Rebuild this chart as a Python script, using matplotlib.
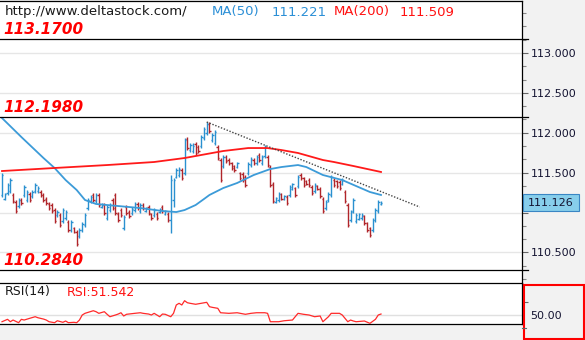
import matplotlib
matplotlib.use('Agg')
import matplotlib.pyplot as plt
from matplotlib.patches import Rectangle
from matplotlib.lines import Line2D
from matplotlib.ticker import FixedLocator
import numpy as np

W, H, DPI = 585, 340, 100

# ---------------- data ----------------
opens = [111.220, 111.170, 111.245, 111.270, 111.220, 111.133, 111.082, 111.158, 111.220, 111.158,
         111.233, 111.208, 111.270, 111.270, 111.258, 111.220, 111.170, 111.108, 111.095, 111.032,
         110.970, 110.970, 110.894, 110.932, 110.882, 110.781, 110.806, 110.756, 110.706, 110.781,
         110.844, 111.057, 111.145, 111.220, 111.145, 111.220, 111.070, 111.095, 110.932, 111.032,
         111.158, 111.220, 110.982, 111.032, 110.806, 111.070, 111.007, 110.995, 111.032, 111.108,
         111.020, 111.095, 111.020, 111.070, 110.982, 110.970, 110.982, 111.007, 111.070, 110.982,
         110.982, 110.907, 111.158, 111.446, 111.471, 111.534, 111.496, 111.922, 111.784, 111.772,
         111.860, 111.822, 111.834, 111.935, 111.997, 112.110, 111.910, 111.872, 111.822, 111.659,
         111.584, 111.697, 111.659, 111.621, 111.584, 111.571, 111.496, 111.484, 111.446, 111.496,
         111.596, 111.659, 111.621, 111.722, 111.621, 111.709, 111.697, 111.571, 111.358, 111.133,
         111.158, 111.233, 111.170, 111.195, 111.220, 111.296, 111.308, 111.333, 111.471, 111.433,
         111.396, 111.408, 111.321, 111.270, 111.333, 111.296, 111.170, 111.057, 111.158, 111.220,
         111.408, 111.396, 111.383, 111.358, 111.258, 111.095, 110.907, 111.020, 110.894, 110.919,
         110.932, 110.957, 110.869, 110.806, 110.781, 110.907, 111.020, 111.110]
highs = [111.496, 111.245, 111.371, 111.433, 111.245, 111.158, 111.183, 111.183, 111.346, 111.283,
         111.258, 111.283, 111.371, 111.333, 111.283, 111.245, 111.195, 111.133, 111.120, 111.057,
         111.032, 110.995, 111.057, 111.032, 110.907, 110.907, 110.819, 110.781, 110.806, 110.882,
         110.995, 111.183, 111.220, 111.245, 111.245, 111.245, 111.120, 111.120, 111.095, 111.120,
         111.183, 111.245, 111.007, 111.057, 110.970, 111.095, 111.032, 111.070, 111.133, 111.133,
         111.120, 111.120, 111.070, 111.095, 110.995, 111.057, 111.007, 111.057, 111.095, 111.032,
         111.007, 111.471, 111.433, 111.559, 111.571, 111.559, 111.935, 111.947, 111.872, 111.872,
         111.885, 111.847, 111.972, 112.073, 112.135, 112.135, 111.997, 112.035, 111.847, 111.684,
         111.722, 111.722, 111.684, 111.634, 111.596, 111.634, 111.509, 111.509, 111.471, 111.634,
         111.697, 111.684, 111.722, 111.747, 111.722, 111.847, 111.722, 111.596, 111.383, 111.195,
         111.258, 111.245, 111.220, 111.220, 111.346, 111.371, 111.321, 111.471, 111.496, 111.446,
         111.408, 111.433, 111.346, 111.371, 111.346, 111.321, 111.195, 111.158, 111.258, 111.471,
         111.433, 111.408, 111.408, 111.433, 111.283, 111.120, 111.032, 111.183, 110.995, 110.995,
         110.995, 110.970, 110.882, 110.819, 110.932, 111.057, 111.158, 111.140]
lows = [111.195, 111.158, 111.220, 111.245, 111.120, 110.995, 111.057, 111.095, 111.195, 111.133,
        111.133, 111.183, 111.245, 111.245, 111.195, 111.133, 111.095, 111.032, 110.995, 110.869,
        110.945, 110.819, 110.869, 110.907, 110.756, 110.756, 110.744, 110.581, 110.681, 110.756,
        110.819, 111.032, 111.120, 111.133, 111.120, 111.070, 111.057, 110.970, 110.907, 111.007,
        111.032, 110.970, 110.882, 110.945, 110.781, 110.970, 110.932, 110.970, 111.007, 111.032,
        110.995, 111.032, 111.007, 110.970, 110.907, 110.945, 110.907, 110.995, 110.995, 110.970,
        110.882, 110.744, 111.070, 111.433, 111.446, 111.408, 111.471, 111.784, 111.759, 111.747,
        111.722, 111.747, 111.809, 111.910, 111.972, 111.997, 111.885, 111.847, 111.659, 111.383,
        111.559, 111.621, 111.596, 111.534, 111.509, 111.559, 111.408, 111.383, 111.321, 111.471,
        111.571, 111.596, 111.596, 111.634, 111.596, 111.684, 111.571, 111.321, 111.120, 111.120,
        111.133, 111.158, 111.158, 111.095, 111.195, 111.283, 111.195, 111.308, 111.408, 111.321,
        111.346, 111.321, 111.220, 111.245, 111.283, 111.183, 110.995, 111.032, 111.133, 111.195,
        111.321, 111.308, 111.283, 111.346, 111.120, 110.819, 110.882, 110.995, 110.869, 110.907,
        110.907, 110.844, 110.756, 110.694, 110.756, 110.882, 110.995, 111.100]
closes = [111.471, 111.233, 111.346, 111.408, 111.145, 111.020, 111.158, 111.120, 111.321, 111.258,
          111.158, 111.258, 111.346, 111.308, 111.220, 111.158, 111.120, 111.057, 111.020, 110.894,
          111.007, 110.844, 111.032, 111.007, 110.781, 110.882, 110.756, 110.606, 110.781, 110.857,
          110.970, 111.158, 111.195, 111.158, 111.220, 111.095, 111.108, 110.995, 111.070, 111.095,
          111.057, 110.995, 110.907, 110.970, 110.945, 110.995, 110.957, 111.045, 111.108, 111.057,
          111.095, 111.057, 111.057, 110.995, 110.932, 111.032, 110.932, 111.045, 111.020, 111.020,
          110.907, 111.408, 111.408, 111.534, 111.546, 111.433, 111.910, 111.809, 111.847, 111.834,
          111.747, 111.772, 111.947, 112.047, 112.110, 112.022, 111.972, 112.010, 111.684, 111.408,
          111.697, 111.646, 111.621, 111.559, 111.534, 111.621, 111.433, 111.408, 111.346, 111.609,
          111.671, 111.621, 111.697, 111.659, 111.697, 111.822, 111.596, 111.346, 111.145, 111.183,
          111.233, 111.170, 111.208, 111.120, 111.321, 111.358, 111.220, 111.446, 111.433, 111.346,
          111.358, 111.346, 111.245, 111.346, 111.296, 111.208, 111.020, 111.133, 111.233, 111.446,
          111.346, 111.333, 111.308, 111.408, 111.145, 110.844, 111.007, 111.158, 110.970, 110.982,
          110.970, 110.869, 110.781, 110.719, 110.907, 111.032, 111.133, 111.126]

ma50_idx = [0, 7, 15, 19, 23, 27, 30, 34, 38, 50, 58, 63, 66, 70, 73, 75, 80, 85, 91, 97,
            101, 107, 110, 116, 123, 128, 133, 137]
ma50_val = [112.185, 111.947, 111.684, 111.559, 111.408, 111.283, 111.158, 111.108, 111.095, 111.057,
            111.020, 111.007, 111.032, 111.095, 111.170, 111.221, 111.308, 111.371, 111.471, 111.546,
            111.571, 111.596, 111.571, 111.471, 111.408, 111.333, 111.258, 111.221]
ma200_idx = [0, 19, 38, 55, 66, 76, 80, 89, 96, 101, 107, 116, 120, 127, 137]
ma200_val = [111.521, 111.559, 111.596, 111.634, 111.684, 111.747, 111.772, 111.809, 111.809, 111.784,
             111.747, 111.659, 111.634, 111.584, 111.509]

trend_idx = [74, 151]
trend_val = [112.135, 111.070]

rsi_idx = [0, 2, 3, 4, 6, 7, 8, 10, 12, 13, 15, 16, 17, 19, 20, 22, 23, 24, 26, 27,
           28, 29, 30, 33, 34, 35, 37, 38, 39, 41, 42, 43, 44, 45, 48, 50, 51, 53, 54, 55,
           57, 58, 59, 61, 62, 63, 64, 65, 66, 67, 68, 70, 72, 74, 75, 76, 78, 79, 82, 85,
           88, 90, 92, 95, 96, 97, 100, 102, 105, 107, 109, 111, 113, 115, 116, 118, 119, 122, 123, 125,
           126, 127, 128, 131, 133, 135, 136, 137]
rsi_val = [39.7, 43.4, 39.7, 42.3, 38.2, 43.4, 42.3, 44.9, 47.4, 45.8, 43.8, 42.3, 39.7, 38.2, 41.2, 38.8, 40.8, 38.2, 38.8, 38.2,
           42.3, 50.0, 52.6, 56.6, 55.1, 52.6, 55.1, 51.1, 47.4, 50.0, 51.5, 53.5, 48.5, 51.1, 52.6, 53.5, 52.6, 51.5, 50.0, 52.6,
           47.4, 51.5, 51.1, 47.4, 52.6, 65.4, 68.0, 65.4, 72.0, 68.9, 68.0, 66.5, 68.0, 69.5, 62.8, 61.8, 60.3, 53.5, 52.6, 53.5,
           51.1, 52.6, 53.5, 53.5, 52.6, 39.7, 39.7, 41.2, 42.3, 52.6, 51.1, 50.0, 47.4, 48.5, 39.7, 47.4, 52.6, 52.6, 50.0, 39.7,
           42.3, 40.8, 39.7, 40.8, 37.2, 43.4, 50.0, 51.542]

levels = [113.17, 112.198, 110.284]
level_labels = ['113.1700', '112.1980', '110.2840']
price_ticks = [110.5, 111.0, 111.5, 112.0, 112.5, 113.0]
price_tick_labels = ['110.500', '', '111.500', '112.000', '112.500', '113.000']
last_price = 111.126
ma50_last = 111.221
ma200_last = 111.509
rsi_last = 51.542

# ---------------- layout helpers ----------------
def fx(px):
    return px / W

def fy(py):
    return 1 - py / H

PX_PER_UNIT = 79.8
P0 = 113.0 + 53 / PX_PER_UNIT   # price at pixel row 0

def price_at(py):
    return P0 - py / PX_PER_UNIT

fig = plt.figure(figsize=(W / DPI, H / DPI), dpi=DPI, facecolor='#f2f2f2')

n = len(closes)
s = 379 / (n - 1)
xl = (-2 / s, 520 / s)

# ---------------- main panel ----------------
ax = fig.add_axes([0, fy(283), fx(522), 282 / H])
ax.set_facecolor('white')
ax.set_xlim(*xl)
ax.set_ylim(price_at(283), price_at(1))

x = np.arange(n)
up = np.array(closes) >= np.array(opens)
colors = np.where(up, '#2a90d0', '#b0252a')
ax.vlines(x, lows, highs, colors=colors, lw=1.0, zorder=3)
ax.hlines(opens, x - 0.5, x, colors=colors, lw=1.0, zorder=3)
ax.hlines(closes, x, x + 0.5, colors=colors, lw=1.0, zorder=3)

ax.plot(ma50_idx, ma50_val, color='#3c9bd8', lw=1.3, zorder=4)
ax.plot(ma200_idx, ma200_val, color='#ff1a1a', lw=1.3, zorder=4)
ax.plot(trend_idx, trend_val, color='#444444', lw=1.0, ls=(0, (1, 1.2)), zorder=5)

for lv in levels:
    ax.axhline(lv, color='black', lw=0.9, xmin=0, xmax=1.012, clip_on=False, zorder=6)

ax.yaxis.tick_right()
ax.set_yticks(price_ticks)
ax.set_yticklabels(price_tick_labels)
minor = [110.0 + k * (0.5 / 3) for k in range(1, 24)]
ax.yaxis.set_minor_locator(FixedLocator(minor))
ax.tick_params(axis='y', which='major', direction='out', length=4, width=0.8, color='#666666',
               labelsize=8, labelcolor='#141432', pad=2)
ax.tick_params(axis='y', which='minor', direction='out', length=3, width=0.8, color='#888888')
ax.set_xticks([])
ax.grid(axis='y', which='major', color='#e6e6e6', lw=1.0, zorder=0)
ax.set_axisbelow(True)
for sp in ['left', 'bottom']:
    ax.spines[sp].set_visible(False)
for sp in ['top', 'right']:
    ax.spines[sp].set_color('black')
    ax.spines[sp].set_linewidth(0.9)

# ---------------- RSI panel ----------------
rx = fig.add_axes([0, fy(324), fx(522), 41 / H])
rx.set_facecolor('white')
rx.set_xlim(*xl)
rx.set_ylim(36.2, 99.2)
rx.axhline(50, color='#e0e0e0', lw=1.0, zorder=1)
rx.plot(rsi_idx, rsi_val, color='#ff2a2a', lw=0.9, zorder=3)
rx.yaxis.tick_right()
rx.set_yticks([50])
rx.set_yticklabels(['50.00'])
rx.yaxis.set_minor_locator(FixedLocator([70]))
rx.tick_params(axis='y', which='major', length=0, labelsize=8, labelcolor='#141432', pad=6)
rx.tick_params(axis='y', which='minor', direction='out', length=4, width=0.8, color='#666666')
rx.set_xticks([])
rx.spines['left'].set_visible(False)
for sp in ['top', 'bottom', 'right']:
    rx.spines[sp].set_color('black')
    rx.spines[sp].set_linewidth(0.9)

# tick for RSI 30 sits below the panel
fig.add_artist(Line2D([fx(522), fx(526)], [fy(327.5), fy(327.5)], color='#666666', lw=0.8))

# red frame around RSI scale
fig.add_artist(Rectangle((fx(523.5), fy(338.5)), fx(583.5) - fx(523.5), (338.5 - 284.5) / H,
                         fill=False, edgecolor='#ff0000', lw=1.5, transform=fig.transFigure))

# current price box
py_last = (P0 - last_price) * PX_PER_UNIT
fig.add_artist(Rectangle((fx(523), fy(py_last + 8.5)), fx(56), 17 / H,
                         facecolor='#87ceeb', edgecolor='#3a86c4', lw=0.8,
                         transform=fig.transFigure, zorder=10))
fig.text(fx(528), fy(py_last), f'{last_price:.3f}', fontsize=8, color='#141432',
         va='center', ha='left', zorder=11)

# ---------------- texts ----------------
fig.text(fx(5), fy(12), 'http://www.deltastock.com/', fontsize=9.5, color='#1a1a1a',
         va='center', ha='left')
fig.text(fx(212), fy(12), 'MA(50)', fontsize=9.5, color='#2b8fd6', va='center', ha='left')
fig.text(fx(272), fy(12), f'{ma50_last:.3f}', fontsize=9.5, color='#2b8fd6', va='center', ha='left')
fig.text(fx(334), fy(12), 'MA(200)', fontsize=9.5, color='#ff1010', va='center', ha='left')
fig.text(fx(400), fy(12), f'{ma200_last:.3f}', fontsize=9.5, color='#ff1010', va='center', ha='left')

for lv, lab in zip(levels, level_labels):
    py = (P0 - lv) * PX_PER_UNIT
    fig.text(fx(3), fy(py - 9.5), lab, fontsize=11, color='#ff0000', fontweight='bold',
             fontstyle='italic', va='center', ha='left')

fig.text(fx(5), fy(292), 'RSI(14)', fontsize=9, color='#1a1a1a', va='center', ha='left')
fig.text(fx(67), fy(292), f'RSI:{rsi_last:.3f}', fontsize=9, color='#ff1010', va='center', ha='left')

fig.savefig('out.png', dpi=DPI, facecolor=fig.get_facecolor())
